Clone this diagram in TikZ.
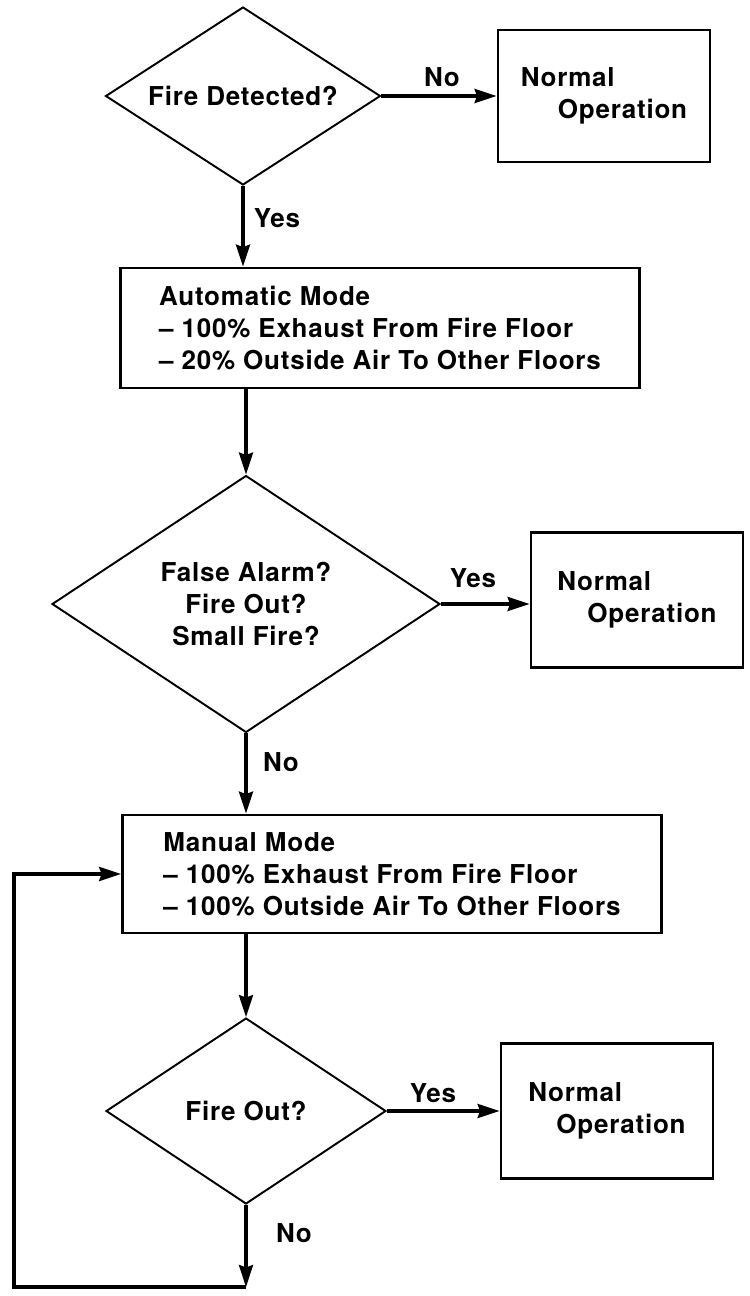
\documentclass[tikz,border=0pt]{standalone}
\usepackage{fontspec}
\setmainfont[LetterSpace=3]{TeX Gyre Heros}
\usetikzlibrary{shapes.geometric,arrows.meta}
\begin{document}
\begin{tikzpicture}[x=0.02cm, y=-0.02cm,
            font=\bfseries\fontsize{14.8}{18.2}\selectfont,
            flow/.style={line width=1.9pt, -{Stealth[length=0.44cm,width=0.28cm,inset=0.05cm]}},
            decision/.style={diamond, draw, line width=1.1pt, inner sep=0pt, align=center, aspect=1.5},
            modebox/.style={draw, line width=1.6pt, align=left, inner sep=0pt, minimum height=2.4cm},
            normalbox/.style={draw, line width=1.6pt, align=left, inner sep=0pt, minimum width=4.24cm, minimum height=2.7cm}
        ]
            \useasboundingbox (0,0) rectangle (750,1296);

            % decisions
            \node[decision, minimum width=5.5cm, minimum height=3.56cm] (detect) at (243,96) {Fire Detected?};
            \node[decision, minimum width=7.76cm, minimum height=5.14cm] (alarm) at (246,604) {False Alarm?\\Fire Out?\\Small Fire?};
            \node[decision, minimum width=5.6cm, minimum height=3.72cm] (fireout) at (246,1111) {Fire Out?};

            % modes
            \node[modebox, minimum width=10.38cm] (auto) at (380,328)
                {Automatic Mode\\-- 100\% Exhaust From Fire Floor\\-- 20\% Outside Air To Other Floors};
            \node[modebox, minimum width=10.78cm, minimum height=2.36cm] (manual) at (392,874)
                {Manual Mode\\-- 100\% Exhaust From Fire Floor\\-- 100\% Outside Air To Other Floors};

            % normal operation
            \node[normalbox, minimum height=2.64cm] (normA) at (604,96) {Normal\\\hspace*{0.74cm}Operation};
            \node[normalbox] (normB) at (637,600) {Normal\\\hspace*{0.6cm}Operation};
            \node[normalbox] (normC) at (607,1111) {Normal\\\hspace*{0.56cm}Operation};

            % connectors
            \draw[flow] (detect.east) -- (normA.west);
            \draw[flow] (detect.south) -- (detect.south |- auto.north);
            \draw[flow] (alarm.north |- auto.south) -- (alarm.north);
            \draw[flow] (alarm.east) -- (alarm.east -| normB.west);
            \draw[flow] (alarm.south) -- (alarm.south |- manual.north);
            \draw[flow] (alarm.south |- manual.south) -- (fireout.north);
            \draw[flow] (fireout.east) -- (normC.west);

            % loop back to manual mode
            \coordinate (loopA) at (246,1287);
            \coordinate (loopB) at (14,1287);
            \draw[flow] (fireout.south) -- (loopA);
            \draw[flow, line join=miter] (loopA) -- (loopB) |- (manual.west);

            % labels
            \node (noA) at (442,77) {No};
            \node (yesA) at (277,218) {Yes};
            \node (yesB) at (473,578) {Yes};
            \node (noB) at (281,762) {No};
            \node (yesC) at (433,1093) {Yes};
            \node (noC) at (294,1233) {No};
        \end{tikzpicture}
\end{document}
